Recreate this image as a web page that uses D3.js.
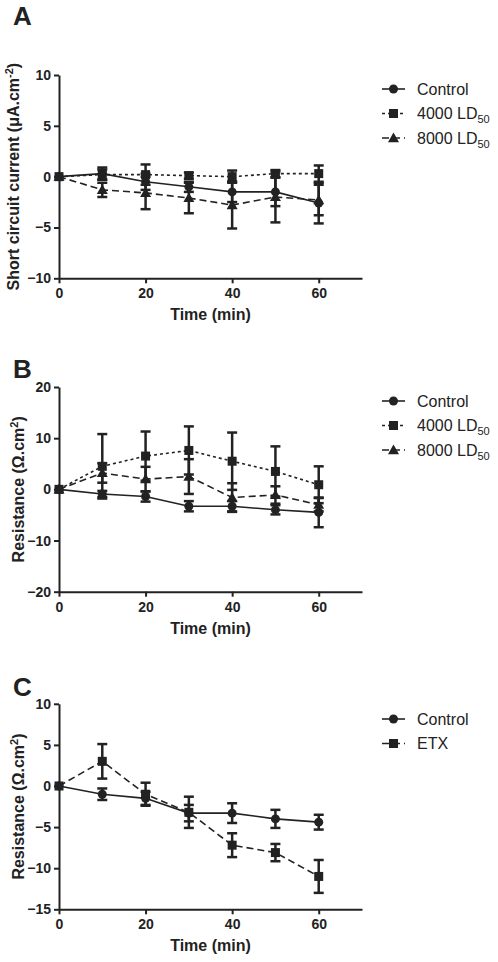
<!DOCTYPE html>
<html><head><meta charset="utf-8">
<script src="https://cdn.jsdelivr.net/npm/d3@7"></script>
<style>
html,body{margin:0;padding:0;background:#fff;}
svg{display:block;font-family:"Liberation Sans",Arial,sans-serif;}
</style></head>
<body>
<svg id="chart" width="498" height="962"></svg>
<script>
// ---------- data ----------
const times = [0, 10, 20, 30, 40, 50, 60];
const xTicks = [0, 20, 40, 60];

// Panel A : short circuit current
const aControl    = [0, 0.3, -0.5, -1.0, -1.5, -1.5, -2.6];
const aControlErr = [0, 0.6, 0.8, 0.5, 1.0, 1.4, 2.0];
const a4000       = [0, 0.2, 0.2, 0.1, 0.0, 0.3, 0.3];
const a4000Err    = [0, 0.5, 1.0, 0.3, 0.6, 0.35, 0.8];
const a8000       = [0, -1.3, -1.6, -2.1, -2.8, -2.0, -2.3];
const a8000Err    = [0, 0.7, 1.6, 1.5, 2.3, 2.5, 1.5];
const aTicks = [-10, -5, 0, 5, 10];

// Panel B : resistance
const bControl    = [0, -0.9, -1.4, -3.3, -3.3, -4.0, -4.5];
const bControlErr = [0, 0.6, 1.0, 1.0, 1.0, 0.9, 2.9];
const b4000       = [0, 4.5, 6.5, 7.6, 5.5, 3.5, 0.9];
const b4000Err    = [0, 6.3, 4.8, 4.7, 5.6, 4.9, 3.6];
const b8000       = [0, 3.2, 2.0, 2.5, -1.6, -1.1, -3.0];
const b8000Err    = [0, 1.9, 2.4, 3.4, 2.8, 1.7, 1.3];
const bTicks = [-20, -10, 0, 10, 20];

// Panel C : resistance, ETX
const cControl    = [0, -1.0, -1.5, -3.3, -3.3, -4.0, -4.4];
const cControlErr = [0, 0.7, 0.8, 1.0, 1.2, 1.1, 0.9];
const cETX        = [0, 3.0, -1.0, -3.2, -7.2, -8.1, -11.0];
const cETXErr     = [0, 2.1, 1.4, 1.9, 1.45, 1.05, 2.0];
const cTicks = [-15, -10, -5, 0, 5, 10];

// ---------- drawing ----------
const svg = d3.select("#chart");
const INK = "#222";
const x = d3.scaleLinear().domain([0, 70]).range([59, 362]);

const dashes = { solid: null, dotted: "3,3", dashed: "7,4" };

function marker(g, shape, cx, cy) {
  if (shape === "circle") {
    g.append("circle").attr("cx", cx).attr("cy", cy).attr("r", 4.5).attr("fill", INK);
  } else if (shape === "square") {
    g.append("rect").attr("x", cx - 4.5).attr("y", cy - 4.5).attr("width", 9).attr("height", 9).attr("fill", INK);
  } else {
    const s = 5.5;
    g.append("path").attr("d", `M${cx},${cy - s}L${cx + s},${cy + s * 0.75}L${cx - s},${cy + s * 0.75}Z`).attr("fill", INK);
  }
}

function panel(cfg) {
  const y = d3.scaleLinear().domain(cfg.domain).range(cfg.range);
  const g = svg.append("g");

  // panel letter
  g.append("text").attr("x", 13).attr("y", cfg.letterY).text(cfg.letter)
    .attr("font-size", 26).attr("font-weight", "bold").attr("fill", INK);

  // axes
  const ax = g.append("g").attr("transform", `translate(0,${cfg.range[0]})`)
    .call(d3.axisBottom(x).tickValues(xTicks).tickSize(5).tickSizeOuter(0).tickPadding(5));
  const ay = g.append("g").attr("transform", `translate(${x(0)},0)`)
    .call(d3.axisLeft(y).tickValues(cfg.ticks).tickSize(5).tickSizeOuter(0).tickPadding(3));
  [ax, ay].forEach(a => {
    a.selectAll("path,line").attr("stroke", INK).attr("stroke-width", 2);
    a.selectAll("text").attr("font-size", 14).attr("font-weight", "bold").attr("fill", INK)
      .attr("font-family", "'Liberation Sans',Arial,sans-serif");
  });

  // axis titles
  g.append("text").attr("x", (x(0) + x(70)) / 2).attr("y", cfg.range[0] + 42)
    .attr("text-anchor", "middle").attr("font-size", 16).attr("font-weight", "bold").attr("fill", INK)
    .text("Time (min)");
  const yt = g.append("text")
    .attr("transform", `translate(${cfg.yTitleX},${(cfg.range[0] + cfg.range[1]) / 2}) rotate(-90)`)
    .attr("text-anchor", "middle").attr("font-size", 16).attr("font-weight", "bold").attr("fill", INK);
  yt.append("tspan").text(cfg.yTitle[0]);
  yt.append("tspan").attr("font-size", 11).attr("dy", -6).text(cfg.yTitle[1]);
  yt.append("tspan").attr("dy", 6).text(")");

  // series
  const line = d3.line().x((d, i) => x(times[i])).y(d => y(d));
  cfg.series.forEach(s => {
    const sg = g.append("g");
    // error bars
    s.values.forEach((v, i) => {
      const e = s.err[i];
      if (!e) return;
      const cx = x(times[i]);
      sg.append("line").attr("x1", cx).attr("x2", cx).attr("y1", y(v - e)).attr("y2", y(v + e))
        .attr("stroke", INK).attr("stroke-width", 2.5);
      [v - e, v + e].forEach(w => sg.append("line").attr("x1", cx - 5).attr("x2", cx + 5)
        .attr("y1", y(w)).attr("y2", y(w)).attr("stroke", INK).attr("stroke-width", 2.5));
    });
    sg.append("path").attr("d", line(s.values)).attr("fill", "none").attr("stroke", INK)
      .attr("stroke-width", 1.6).attr("stroke-dasharray", dashes[s.dash]);
    s.values.forEach((v, i) => marker(sg, s.shape, x(times[i]), y(v)));
  });

  // legend
  cfg.series.forEach((s, k) => {
    const ly = cfg.legendY + k * 24.5;
    const lg = g.append("g");
    lg.append("line").attr("x1", 382).attr("x2", 405).attr("y1", ly).attr("y2", ly)
      .attr("stroke", INK).attr("stroke-width", 1.6).attr("stroke-dasharray", dashes[s.dash]);
    marker(lg, s.shape, 393.5, ly);
    const t = lg.append("text").attr("x", 417).attr("y", ly + 5.5).attr("font-size", 16).attr("fill", INK);
    t.append("tspan").text(s.name[0]);
    if (s.name[1]) t.append("tspan").attr("font-size", 11).attr("dy", 4).text(s.name[1]);
  });
}

panel({
  letter: "A", letterY: 25, domain: [-10, 10], range: [278.3, 75], ticks: aTicks,
  yTitle: ["Short circuit current (\u03BCA.cm", "-2"], yTitleX: 19, legendY: 89,
  series: [
    { name: ["Control"], values: aControl, err: aControlErr, shape: "circle", dash: "solid" },
    { name: ["4000 LD", "50"], values: a4000, err: a4000Err, shape: "square", dash: "dotted" },
    { name: ["8000 LD", "50"], values: a8000, err: a8000Err, shape: "triangle", dash: "dashed" }
  ]
});
panel({
  letter: "B", letterY: 378, domain: [-20, 20], range: [591.7, 387], ticks: bTicks,
  yTitle: ["Resistance (\u03A9.cm", "2"], yTitleX: 24, legendY: 401,
  series: [
    { name: ["Control"], values: bControl, err: bControlErr, shape: "circle", dash: "solid" },
    { name: ["4000 LD", "50"], values: b4000, err: b4000Err, shape: "square", dash: "dotted" },
    { name: ["8000 LD", "50"], values: b8000, err: b8000Err, shape: "triangle", dash: "dashed" }
  ]
});
panel({
  letter: "C", letterY: 696, domain: [-15, 10], range: [909.3, 703.8], ticks: cTicks,
  yTitle: ["Resistance (\u03A9.cm", "2"], yTitleX: 24, legendY: 719,
  series: [
    { name: ["Control"], values: cControl, err: cControlErr, shape: "circle", dash: "solid" },
    { name: ["ETX"], values: cETX, err: cETXErr, shape: "square", dash: "dashed" }
  ]
});
</script>
</body></html>
